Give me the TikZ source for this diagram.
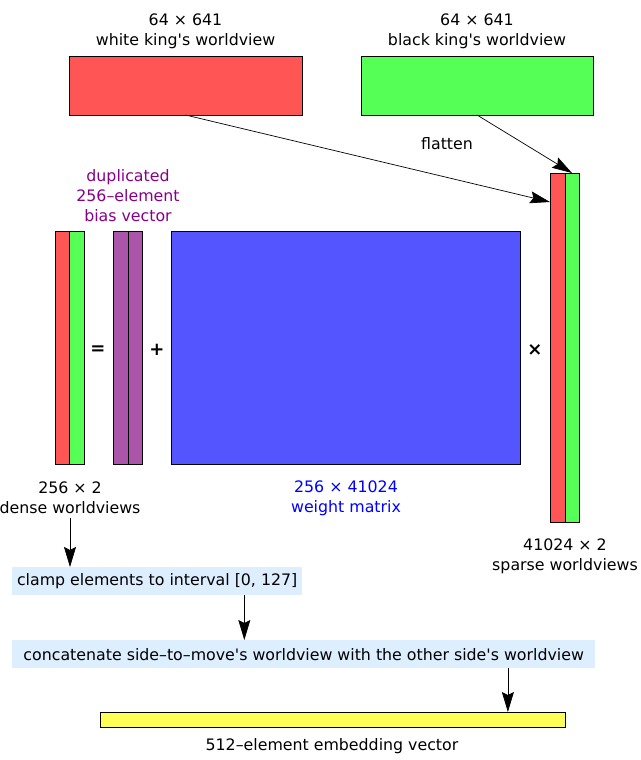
\documentclass[tikz,border=0pt]{standalone}
\usepackage{fontspec}
\setmainfont{DejaVu Sans}
\usetikzlibrary{positioning}
\usetikzlibrary{calc}
\usetikzlibrary{arrows.meta}
\definecolor{wkingc}{HTML}{FF5555}
\definecolor{bkingc}{HTML}{55FF55}
\definecolor{biasc}{HTML}{AA55AA}
\definecolor{weightc}{HTML}{5555FF}
\definecolor{embedc}{HTML}{FFFF55}
\definecolor{stepc}{HTML}{DDEEFF}
\definecolor{biastextc}{HTML}{880088}
\newcommand{\sq}{\textquotesingle}

\begin{document}
\begin{tikzpicture}[x=1pt,y=-1pt,font=\fontsize{15.8}{20}\selectfont,
  blk/.style={draw, line width=1pt, inner sep=0pt, outer sep=0pt, anchor=north west},
  stepbox/.style={fill=stepc, inner xsep=4pt, inner ysep=0pt, minimum height=28pt, anchor=north west},
  opsign/.style={font=\fontsize{18}{20}\selectfont\bfseries},
  arr/.style={-{Stealth[length=20pt,width=12pt,inset=3pt]}, line width=0.7pt}]
\useasboundingbox (0,0) rectangle (640,760);

% the two king worldviews
\node[blk, fill=wkingc, minimum width=233pt, minimum height=58pt] (wking) at (69,57) {};
\node[blk, fill=bkingc, minimum width=232pt, minimum height=58pt] (bking) at (361,57) {};
\node[above=5pt of wking, align=center] (wkinglbl) {64 × 641\\white king\sq s worldview};
\node[above=5pt of bking, align=center] (bkinglbl) {64 × 641\\black king\sq s worldview};

% sparse worldviews
\node[blk, fill=wkingc, minimum width=15pt, minimum height=349pt] (sparseR) at (550,173) {};
\node[blk, fill=bkingc, minimum width=14pt, minimum height=349pt] (sparseG) at (sparseR.north east) {};
\node[align=center] (sparselbl) at (565,556) {41024 × 2\\sparse worldviews};
\node (flatlbl) at (447,144) {flatten};
\coordinate (wkingin) at (550,202);
\draw[arr] (wking.south) -- (wkingin);
\draw[arr] (bking.south) -- (sparseG.north);

% dense = bias + weight x sparse
\node[blk, fill=wkingc, minimum width=14pt, minimum height=233pt] (denseR) at (55,231) {};
\node[blk, fill=bkingc, minimum width=15pt, minimum height=233pt] (denseG) at (denseR.north east) {};
\node[blk, fill=biasc, minimum width=15pt, minimum height=233pt] (biasL) at (113,231) {};
\node[blk, fill=biasc, minimum width=14pt, minimum height=233pt] (biasR) at (biasL.north east) {};
\node[blk, fill=weightc, minimum width=349pt, minimum height=233pt] (weight) at (171,231) {};
\node[opsign] (eqsign) at (98,350) {=};
\node[opsign] (plussign) at (157,350) {+};
\node[opsign] (timessign) at (535,350) {×};
\node[align=center, text=biastextc] (biaslbl) at (128,196) {duplicated\\256–element\\bias vector};
\node[align=center] (denselbl) at (70,498) {256 × 2\\dense worldviews};
\node[align=center, text=blue] (weightlbl) at (346,498) {256 × 41024\\weight matrix};

% post-processing steps
\node[stepbox, minimum width=290pt] (clamp) at (12,567) {clamp elements to interval [0, 127]};
\node[stepbox, minimum width=583pt] (concat) at (12,640) {concatenate side–to–move\sq s worldview with the other side\sq s worldview};
\node[blk, fill=embedc, minimum width=465pt, minimum height=15pt] (embed) at (100,712) {};
\node (embedlbl) at (332,746) {512–element embedding vector};
\coordinate (clampout) at ($(clamp.south west)!0.8!(clamp.south east)$);
\coordinate (concatout) at ($(concat.south west)!0.85!(concat.south east)$);
\draw[arr] (denselbl.south) -- (denselbl.south |- clamp.north);
\draw[arr] (clampout) -- (clampout |- concat.north);
\draw[arr] (concatout) -- (concatout |- embed.north);
\end{tikzpicture}
\end{document}
